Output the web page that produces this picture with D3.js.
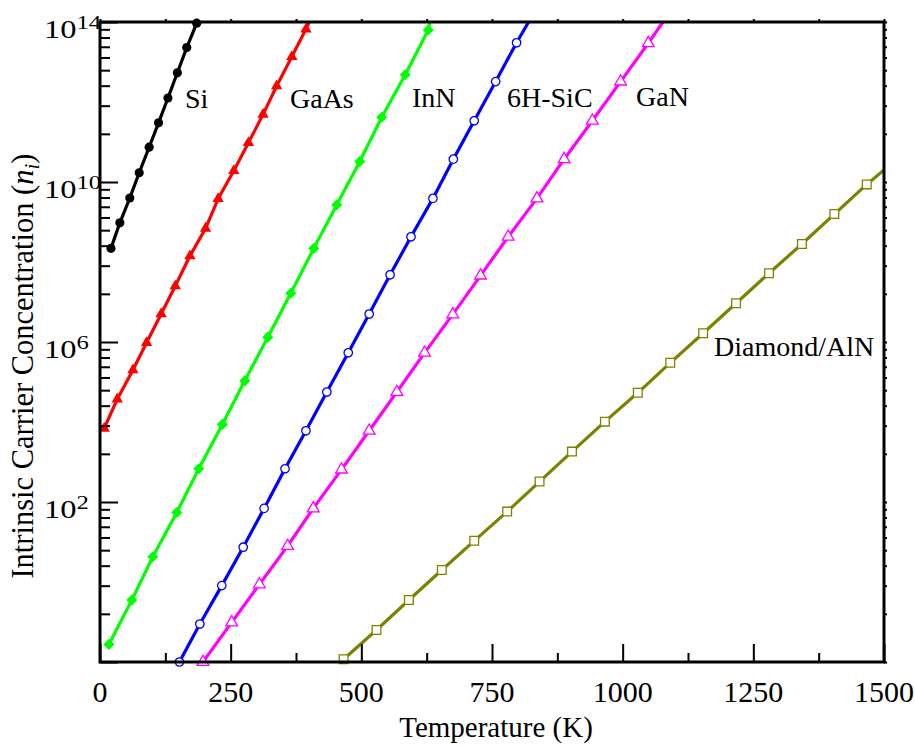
<!DOCTYPE html>
<html><head><meta charset="utf-8">
<script src="https://cdn.jsdelivr.net/npm/d3@7"></script>
<style>body{margin:0;background:#fff}svg{display:block}</style>
</head><body>
<svg id="c" width="915" height="746"></svg>
<script>
// ---------------- data ----------------
const seriesNames = ["Si", "GaAs", "InN", "6H-SiC", "GaN", "Diamond/AlN"];

const siT = [21, 38, 57, 75, 94, 112, 130, 148, 166, 185];
const siN = [2.19e8, 9.55e8, 3.98e9, 1.70e10, 7.41e10, 3.02e11, 1.26e12, 5.37e12, 2.29e13, 9.33e13];

const gaasT = [8, 33, 63, 89, 117, 144, 172, 202, 226, 256, 284, 312, 338, 367, 394];
const gaasN = [6.92e3, 3.72e4, 2.00e5, 9.55e5, 5.01e6, 2.51e7, 1.41e8, 6.92e8, 3.80e9, 1.91e10, 9.55e10, 4.90e11, 2.51e12, 1.35e13, 6.61e13];

const innT = [17, 61, 101, 147, 189, 234, 277, 321, 365, 409, 453, 497, 539, 584, 628];
const innN = [2.75e-2, 3.55e-1, 4.27, 55.0, 676, 8.71e3, 1.07e5, 1.32e6, 1.66e7, 2.19e8, 2.69e9, 3.24e10, 4.17e11, 4.79e12, 6.31e13];

const sicT = [152, 191, 233, 274, 314, 354, 394, 434, 475, 515, 555, 595, 637, 676, 716, 757, 797];
const sicN = [1.00e-2, 8.91e-2, 8.13e-1, 7.41, 69.2, 676, 6.03e3, 5.62e4, 5.37e5, 5.01e6, 4.79e7, 4.27e8, 3.89e9, 3.72e10, 3.39e11, 3.24e12, 3.02e13];

const ganT = [197, 252, 305, 359, 408, 462, 515, 568, 621, 675, 728, 781, 836, 888, 942, 996, 1049];
const ganN = [1.00e-2, 9.77e-2, 8.71e-1, 7.94, 69.2, 646, 6.03e3, 5.62e4, 5.37e5, 4.90e6, 4.57e7, 4.27e8, 3.89e9, 3.72e10, 3.39e11, 3.24e12, 2.95e13];

const diaT = [466, 529, 591, 654, 716, 779, 841, 903, 966, 1029, 1091, 1154, 1217, 1280, 1343, 1405, 1467];
const diaN = [1.17e-2, 6.31e-2, 3.55e-1, 2.00, 10.7, 57.5, 324, 1.82e3, 1.02e4, 5.37e4, 3.02e5, 1.66e6, 9.33e6, 5.25e7, 2.82e8, 1.58e9, 8.71e9];

// where each curve leaves the plot (beyond its last marker)
const lineEndT = [185, 400, 631, 820, 1077, 1500];
const lineEndN = [9.33e13, 1e14, 1e14, 1e14, 1e14, 2.0e10];

const xTickValues = [0, 250, 500, 750, 1000, 1250, 1500];
const xMinorTickValues = [125, 375, 625, 875, 1125, 1375];
const yMajorExponents = [-2, 2, 6, 10, 14];
const yLabelExponents = [2, 6, 10, 14];
const xTitle = "Temperature (K)";
const yTitleMain = "Intrinsic Carrier Concentration (";

// ---------------- drawing ----------------
const FONT = "'Liberation Serif','Times New Roman',Times,serif";
const svg = d3.select("#c");
const L = 100, R = 884, T = 22, B = 662;
const x = d3.scaleLinear().domain([0, 1500]).range([L, R]);
const y = d3.scaleLog().domain([1e-2, 1e14]).range([B, T]);

const allT = [siT, gaasT, innT, sicT, ganT, diaT];
const allN = [siN, gaasN, innN, sicN, ganN, diaN];
const colors = ["#000000", "#ff0000", "#00ff00", "#0000ff", "#ff00ff", "#808000"];
const styles = [
  {type: d3.symbolCircle, size: 66, fill: "#000000", stroke: "none", rot: 0},
  {type: d3.symbolTriangle, size: 56, fill: "#ff0000", stroke: "none", rot: 0},
  {type: d3.symbolSquare, size: 62, fill: "#00ff00", stroke: "none", rot: 45},
  {type: d3.symbolCircle, size: 56, fill: "#ffffff", stroke: "#0000ff", rot: 0},
  {type: d3.symbolTriangle, size: 60, fill: "#ffffff", stroke: "#ff00ff", rot: 0},
  {type: d3.symbolSquare, size: 76, fill: "#ffffff", stroke: "#808000", rot: 0}
];

svg.append("defs").append("clipPath").attr("id", "clip")
  .append("rect").attr("x", L).attr("y", T).attr("width", R - L).attr("height", B - T);

const gLines = svg.append("g").attr("clip-path", "url(#clip)");
const line = d3.line().x(d => x(d[0])).y(d => y(d[1]));

allT.forEach((ts, i) => {
  const pts = ts.map((t, j) => [t, allN[i][j]]);
  const last = pts[pts.length - 1];
  if (lineEndT[i] !== last[0]) pts.push([lineEndT[i], lineEndN[i]]);
  gLines.append("path").datum(pts)
    .attr("d", line).attr("fill", "none")
    .attr("stroke", colors[i]).attr("stroke-width", 3.2)
    .attr("stroke-linejoin", "round");
});

const gMarks = svg.append("g");
allT.forEach((ts, i) => {
  const st = styles[i];
  const sym = d3.symbol().type(st.type).size(st.size);
  gMarks.selectAll(null).data(ts.map((t, j) => [t, allN[i][j]])).enter()
    .append("path")
    .attr("d", sym)
    .attr("transform", d => `translate(${x(d[0])},${y(d[1])}) rotate(${st.rot})`)
    .attr("fill", st.fill)
    .attr("stroke", st.stroke)
    .attr("stroke-width", st.stroke === "none" ? 0 : 1.3);
});

// axes ticks
function noDomain(g) { g.select(".domain").remove(); g.selectAll("line").attr("stroke", "#000").attr("stroke-width", 2); }

svg.append("g").attr("transform", `translate(0,${B})`)
  .call(d3.axisBottom(x).tickValues(xTickValues).tickSize(-18).tickFormat(""))
  .call(noDomain);
svg.append("g").attr("transform", `translate(0,${B})`)
  .call(d3.axisBottom(x).tickValues(xMinorTickValues).tickSize(-9).tickFormat(""))
  .call(noDomain);
svg.append("g").attr("transform", `translate(0,${T})`)
  .call(d3.axisTop(x).tickValues(xTickValues.concat(xMinorTickValues)).tickSize(3).tickFormat(""))
  .call(noDomain);

const yMajor = yMajorExponents.map(e => Math.pow(10, e));
const yMinor = [];
yMajorExponents.slice(0, -1).forEach(e => {
  for (let k = 2; k <= 9; k++) yMinor.push(Math.pow(10, e + 4 * Math.log10(k)));
});

svg.append("g").attr("transform", `translate(${L},0)`)
  .call(d3.axisLeft(y).tickValues(yMajor).tickSize(-18).tickFormat(""))
  .call(noDomain);
svg.append("g").attr("transform", `translate(${L},0)`)
  .call(d3.axisLeft(y).tickValues(yMinor).tickSize(-10).tickFormat(""))
  .call(noDomain);
svg.append("g").attr("transform", `translate(${R},0)`)
  .call(d3.axisRight(y).tickValues(yMajor.concat(yMinor)).tickSize(3).tickFormat(""))
  .call(noDomain);

// frame
svg.append("rect").attr("x", L).attr("y", T).attr("width", R - L).attr("height", B - T)
  .attr("fill", "none").attr("stroke", "#000").attr("stroke-width", 3);

// x tick labels
svg.append("g").selectAll("text").data(xTickValues).enter().append("text")
  .attr("x", d => x(d)).attr("y", 702)
  .attr("text-anchor", "middle")
  .attr("font-family", FONT).attr("font-size", 30)
  .text(d => d);

// y tick labels (10^n)
const yl = svg.append("g").selectAll("g").data(yLabelExponents).enter().append("g")
  .attr("transform", d => `translate(44,${y(Math.pow(10, d)) + 15.5}) scale(1.3,1)`);
const yt = yl.append("text").attr("font-family", FONT).attr("font-size", 25);
yt.append("tspan").text("10");
yt.append("tspan").attr("dy", -8.5).attr("font-size", 19).text(d => d);

// x title
svg.append("text").attr("x", 496).attr("y", 737).attr("text-anchor", "middle")
  .attr("font-family", FONT).attr("font-size", 29).text(xTitle);

// y title
const ytl = svg.append("text").attr("transform", "translate(33,366) rotate(-90)")
  .attr("text-anchor", "middle").attr("font-family", FONT).attr("font-size", 30.5);
ytl.append("tspan").text(yTitleMain);
ytl.append("tspan").attr("font-style", "italic").text("n");
ytl.append("tspan").attr("font-style", "italic").attr("font-size", 21).attr("dy", 6).text("i");
ytl.append("tspan").attr("dy", -6).text(")");

// series labels
const labelPos = [[185, 108], [290, 108], [412, 107], [507, 107], [636, 106], [714, 356]];
svg.append("g").selectAll("text").data(seriesNames).enter().append("text")
  .attr("x", (d, i) => labelPos[i][0]).attr("y", (d, i) => labelPos[i][1])
  .attr("font-family", FONT).attr("font-size", 28)
  .text(d => d);
</script>
</body></html>
